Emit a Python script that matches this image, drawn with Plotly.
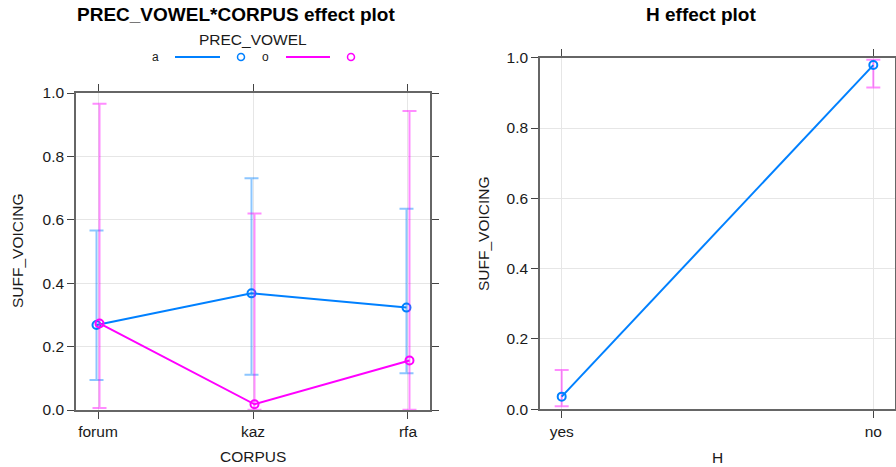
import plotly.graph_objects as go

W, H_PX = 896, 467

# ---- data ----
corpus = ["forum", "kaz", "rfa"]
fit_a = [0.268, 0.368, 0.323]
lower_a = [0.095, 0.111, 0.116]
upper_a = [0.566, 0.731, 0.635]
fit_o = [0.273, 0.018, 0.156]
lower_o = [0.006, 0.001, 0.001]
upper_o = [0.966, 0.620, 0.943]

h_levels = ["yes", "no"]
fit_h = [0.036, 0.979]
lower_h = [0.009, 0.915]
upper_h = [0.112, 0.994]

y_ticks = [0.0, 0.2, 0.4, 0.6, 0.8, 1.0]

BLUE = "#0080ff"
MAG = "#ff00ff"
BLUE_CI = "rgba(0,128,255,0.45)"
MAG_CI = "rgba(255,0,255,0.45)"
FONT = "Liberation Sans, Arial, sans-serif"
AX = "#666666"
TXT = "#1a1a1a"


def px_x(p):
    return p / W


def px_y(p):
    return 1 - p / H_PX


fig = go.Figure()

dodge = 0.0097
idx = list(range(len(corpus)))


def ci(fit, lo, hi):
    return dict(type="data", symmetric=False,
                array=[h - f for f, h in zip(fit, hi)],
                arrayminus=[f - l for f, l in zip(fit, lo)])


for fit, lo, hi, col, cicol, sgn in [
    (fit_a, lower_a, upper_a, BLUE, BLUE_CI, -1),
    (fit_o, lower_o, upper_o, MAG, MAG_CI, 1),
]:
    xs = [i + sgn * dodge for i in idx]
    e = ci(fit, lo, hi)
    e.update(color=cicol, thickness=2, width=7)
    fig.add_trace(go.Scatter(x=xs, y=fit, mode="lines+markers",
                             line=dict(color=col, width=2),
                             marker=dict(symbol="circle-open", size=8, color=col, line=dict(width=2)),
                             error_y=e, xaxis="x", yaxis="y", showlegend=False, cliponaxis=False))

hidx = list(range(len(h_levels)))
eh = ci(fit_h, lower_h, upper_h)
eh.update(color=MAG_CI, thickness=2, width=7)
fig.add_trace(go.Scatter(x=hidx, y=fit_h, mode="lines+markers",
                         line=dict(color=BLUE, width=2),
                         marker=dict(symbol="circle-open", size=8, color=BLUE, line=dict(width=2)),
                         error_y=eh, xaxis="x2", yaxis="y2", showlegend=False, cliponaxis=False))

axis_common = dict(showline=True, linecolor=AX, linewidth=1.5, mirror="allticks",
                   ticks="outside", ticklen=7, tickcolor="#444444", tickwidth=1.2,
                   showgrid=True, gridcolor="#e6e6e6", gridwidth=1, zeroline=False,
                   automargin=False,
                   tickfont=dict(family=FONT, size=15.5, color=TXT))

fig.update_layout(
    width=W, height=H_PX, margin=dict(l=0, r=0, t=0, b=0, pad=0, autoexpand=False),
    paper_bgcolor="white", plot_bgcolor="white",
    xaxis=dict(domain=[px_x(76), px_x(430)], range=[-0.142, 2.142],
               tickvals=idx, ticktext=corpus, anchor="y", **axis_common),
    yaxis=dict(domain=[px_y(410), px_y(93)], range=[0, 1],
               tickvals=y_ticks, ticktext=[f"{v:.1f}" for v in y_ticks], anchor="x", **axis_common),
    xaxis2=dict(domain=[px_x(540), px_x(895)], range=[-0.0696, 1.0696],
                tickvals=hidx, ticktext=h_levels, anchor="y2", **axis_common),
    yaxis2=dict(domain=[px_y(409.3), px_y(57.7)], range=[0, 1],
                tickvals=y_ticks, ticktext=[f"{v:.1f}" for v in y_ticks], anchor="x2", **axis_common),
    showlegend=False,
)

ann = []


def txt(x, y, s, size=15.5, bold=False, angle=0, xanchor="center"):
    ann.append(dict(x=px_x(x), y=px_y(y), xref="paper", yref="paper", text=f"<b>{s}</b>" if bold else s,
                    showarrow=False, textangle=angle, xanchor=xanchor, yanchor="middle",
                    font=dict(family=FONT, size=size, color="black" if bold else TXT)))


txt(236, 14, "PREC_VOWEL*CORPUS effect plot", size=19, bold=True)
txt(701, 14, "H effect plot", size=19, bold=True)
txt(253, 456, "CORPUS")
txt(717, 457, "H")
txt(18, 251, "SUFF_VOICING", angle=-90)
txt(483, 234, "SUFF_VOICING", angle=-90)
txt(253, 40, "PREC_VOWEL")
txt(155, 57, "a", size=12)
txt(265, 57, "o", size=12)
fig.update_layout(annotations=ann)

shapes = []
for (x0, x1, cx, col) in [(175, 220, 241, BLUE), (286, 330, 351, MAG)]:
    shapes.append(dict(type="line", xref="paper", yref="paper", x0=px_x(x0), x1=px_x(x1),
                       y0=px_y(57), y1=px_y(57), line=dict(color=col, width=2)))
    shapes.append(dict(type="circle", xref="paper", yref="paper", x0=px_x(cx - 3.5), x1=px_x(cx + 3.5),
                       y0=px_y(53.5), y1=px_y(60.5), line=dict(color=col, width=1.5)))
fig.update_layout(shapes=shapes)

fig.write_html("out.html")
